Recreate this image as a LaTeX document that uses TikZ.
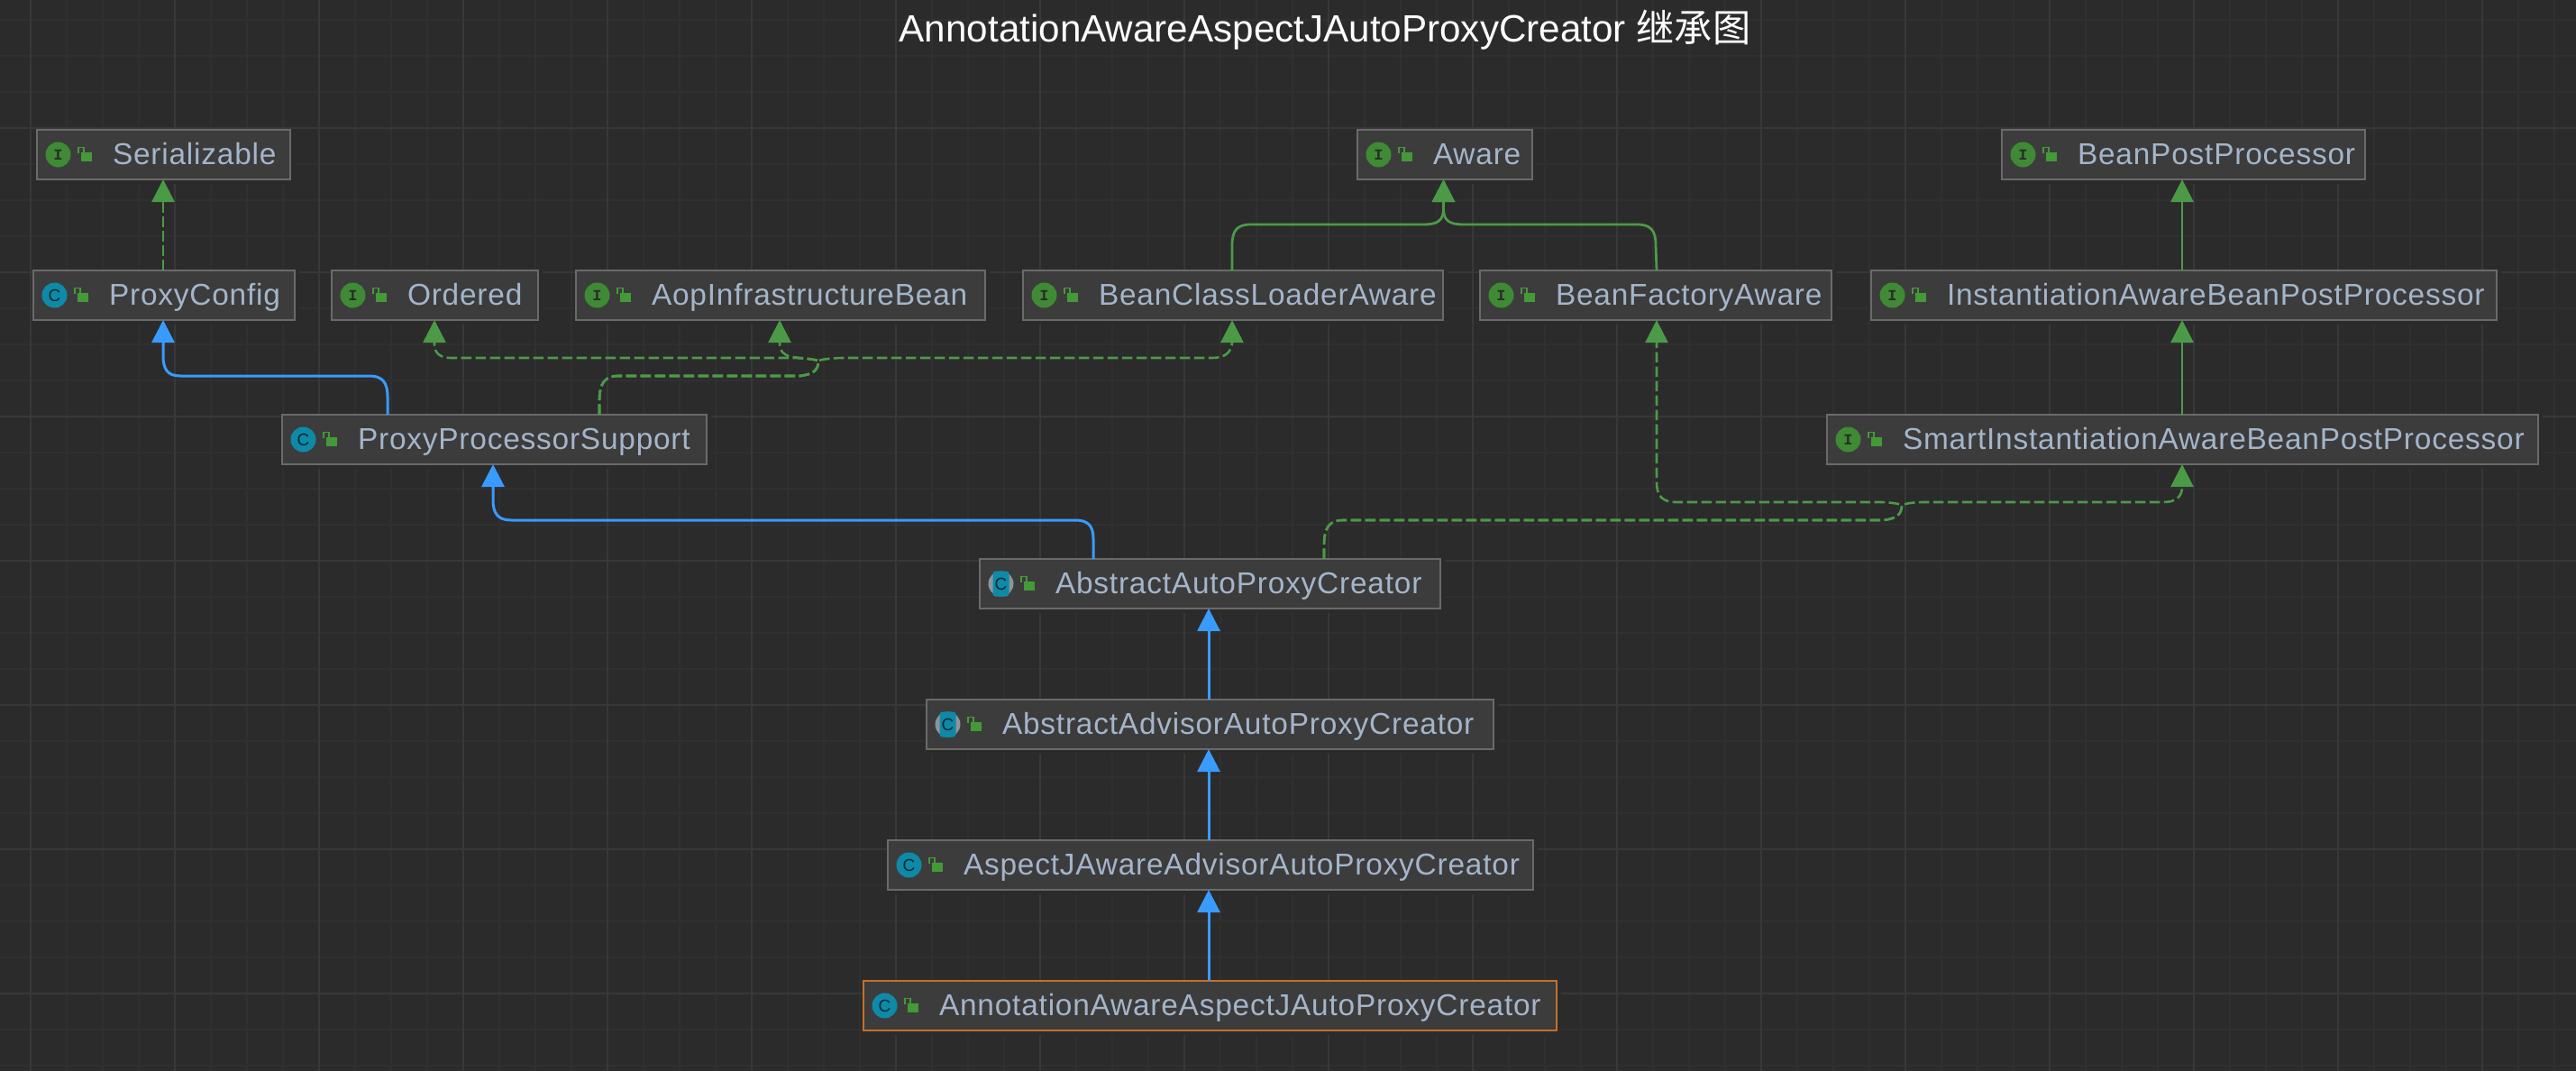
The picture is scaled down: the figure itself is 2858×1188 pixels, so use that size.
\documentclass[tikz,border=0pt]{standalone}
\usepackage{fontspec}
\setmainfont{Liberation Sans}
\newfontfamily\spacedfont{Liberation Sans}[LetterSpace=2.4]
\newfontfamily\cjkfont{Noto Sans CJK SC}
\newfontfamily\iconmono{Liberation Mono}[BoldFont={* Bold}]
\usetikzlibrary{arrows.meta}
\definecolor{bgc}{HTML}{2B2B2B}
\definecolor{gridminor}{HTML}{303030}
\definecolor{gridmajor}{HTML}{383838}
\definecolor{boxfill}{HTML}{3C3C3C}
\definecolor{boxline}{HTML}{6A6A6A}
\definecolor{labelc}{HTML}{A4B5C9}
\definecolor{ifgreen}{HTML}{3F8A35}
\definecolor{lockgreen}{HTML}{439A37}
\definecolor{clteal}{HTML}{0E8AA8}
\definecolor{absgray}{HTML}{8B959B}
\definecolor{edgegreen}{HTML}{4C9A48}
\definecolor{edgeblue}{HTML}{3A9BFF}
\definecolor{selorange}{HTML}{C4702A}
\tikzset{
  classbox/.style={draw=boxline,fill=boxfill,line width=1pt,inner sep=0pt,outer sep=0pt,
    font=\spacedfont\fontsize{16.7pt}{18pt}\selectfont,text=labelc},
  selected/.style={draw=selorange},
  ifacedot/.style={circle,fill=ifgreen,minimum size=14pt,inner sep=0pt,text=bgc,
    font=\iconmono\bfseries\fontsize{8.5pt}{9pt}\selectfont},
  classdot/.style={circle,fill=clteal,minimum size=14pt,inner sep=0pt,text=black!70!clteal,
    font=\fontsize{9.5pt}{10pt}\selectfont},
  absdot/.style={circle,fill=absgray,minimum size=14pt,inner sep=0pt},
  absband/.style={fill=clteal,rounded corners=1.5pt,minimum width=9pt,minimum height=14pt,inner sep=0pt,
    text=black!70!clteal,font=\fontsize{9.5pt}{10pt}\selectfont},
  lockbody/.style={fill=lockgreen,minimum width=6.2pt,minimum height=5pt,inner sep=0pt},
  solidgreen/.style={draw=edgegreen,line width=1.4pt,-{Triangle[length=12.5pt,width=12.5pt,fill=edgegreen]}},
  dashgreen/.style={draw=edgegreen,line width=1.3pt,dash pattern=on 5.8pt off 2.2pt,
     -{Triangle[length=12.5pt,width=12.5pt,fill=edgegreen]}},
  solidblue/.style={draw=edgeblue,line width=1.5pt,-{Triangle[length=12.5pt,width=12.5pt,fill=edgeblue]}},
}
% #1 name, #2 x1, #3 y1, #4 x2, #5 y2, #6 kind (I,C,A), #7 extra style, #8 text
\newcommand{\classnode}[8]{%
  \fill[bgc] (#2,#3) rectangle (#4+4,#5+4);
  \pgfmathsetmacro{\bw}{(#4-#2-2)*0.5}
  \pgfmathsetmacro{\bh}{(#5-#3-2)*0.5}
  \pgfmathsetmacro{\bcx}{(#2+#4)/2}
  \pgfmathsetmacro{\bcy}{(#3+#5)/2}
  \node[classbox,#7,minimum height=\bh pt] (#1) at (\bcx,\bcy)
    {\makebox[\bw pt][l]{\rule[-3pt]{0pt}{17pt}\hspace{42pt}#8}};
  \pgfmathsetmacro{\ix}{#2+24.5}
  \pgfmathsetmacro{\lx}{#2+56}
  \pgfmathsetmacro{\ly}{\bcy+2}
  \pgfmathsetmacro{\sxa}{#2+47}
  \pgfmathsetmacro{\sxb}{#2+53}
  \pgfmathsetmacro{\sya}{\bcy-1.5}
  \pgfmathsetmacro{\syb}{\bcy-8}
  \pgfmathsetmacro{\syc}{\bcy-3}
  \ifx#6I\node[ifacedot] (#1-icon) at (\ix,\bcy) {I};\fi
  \ifx#6C\node[classdot] (#1-icon) at (\ix,\bcy) {C};\fi
  \ifx#6A\node[absdot] (#1-icon) at (\ix,\bcy) {};
    \node[absband] (#1-band) at (\ix,\bcy) {C};\fi
  \draw[lockgreen,line width=0.9pt] (\sxa,\sya) -- (\sxa,\syb) -- (\sxb,\syb) -- (\sxb,\syc);
  \node[lockbody] (#1-lock) at (\lx,\ly) {};
}
\begin{document}
\begin{tikzpicture}[x=0.5pt,y=-0.5pt]
\useasboundingbox (0,0) rectangle (2858,1188);
\fill[bgc] (0,0) rectangle (2858,1188);
\foreach \gx in {34,74,...,2834} \draw[gridminor,line width=1pt] (\gx,0) -- (\gx,1188);
\foreach \gy in {22,62,...,1182} \draw[gridminor,line width=1pt] (0,\gy) -- (2858,\gy);
\foreach \gx in {34,194,...,2834} \draw[gridmajor,line width=1pt] (\gx,0) -- (\gx,1188);
\foreach \gy in {142,302,...,1102} \draw[gridmajor,line width=1pt] (0,\gy) -- (2858,\gy);

\node[text=white,anchor=base,inner sep=0pt,font=\fontsize{21.1pt}{24pt}\selectfont] (title) at (1470,47)
  {AnnotationAwareAspectJAutoProxyCreator {\cjkfont 继承图}};

\classnode{ser}{40}{143}{323}{200}{I}{}{Serializable}
\classnode{aware}{1505}{143}{1701}{200}{I}{}{Aware}
\classnode{bpp}{2220}{143}{2625}{200}{I}{}{BeanPostProcessor}
\classnode{pconf}{36}{299}{328}{356}{C}{}{ProxyConfig}
\classnode{ord}{367}{299}{598}{356}{I}{}{Ordered}
\classnode{aop}{638}{299}{1094}{356}{I}{}{AopInfrastructureBean}
\classnode{bcl}{1134}{299}{1602}{356}{I}{}{BeanClassLoaderAware}
\classnode{bfa}{1641}{299}{2033}{356}{I}{}{BeanFactoryAware}
\classnode{iabpp}{2075}{299}{2771}{356}{I}{}{InstantiationAwareBeanPostProcessor}
\classnode{pps}{312}{459}{785}{516}{C}{}{ProxyProcessorSupport}
\classnode{siabpp}{2026}{459}{2817}{516}{I}{}{SmartInstantiationAwareBeanPostProcessor}
\classnode{aapc}{1086}{619}{1599}{676}{A}{}{AbstractAutoProxyCreator}
\classnode{aaapc}{1027}{775}{1658}{832}{A}{}{AbstractAdvisorAutoProxyCreator}
\classnode{ajapc}{984}{931}{1702}{988}{C}{}{AspectJAwareAdvisorAutoProxyCreator}
\classnode{annot}{957}{1087}{1728}{1144}{C}{selected}{AnnotationAwareAspectJAutoProxyCreator}

% port columns
\coordinate (xSer) at (181,0);
\coordinate (xPpsL) at (430,0);
\coordinate (xPpsR) at (665,0);
\coordinate (xOrd) at (482,0);
\coordinate (xAop) at (865,0);
\coordinate (xBcl) at (1367,0);
\coordinate (xBfa) at (1838,0);
\coordinate (xRight) at (2421,0);
\coordinate (xPpsC) at (547,0);
\coordinate (xAapcL) at (1213,0);
\coordinate (xAapcR) at (1469,0);
\coordinate (xMid) at (1341,0);
\coordinate (xAware) at (1601.5,0);

% straight edges
\draw[dashgreen] (pconf.north -| xSer) -- (ser.south -| xSer);
\draw[solidgreen] (iabpp.north -| xRight) -- (bpp.south -| xRight);
\draw[solidgreen] (siabpp.north -| xRight) -- (iabpp.south -| xRight);
\draw[solidblue] (aaapc.north -| xMid) -- (aapc.south -| xMid);
\draw[solidblue] (ajapc.north -| xMid) -- (aaapc.south -| xMid);
\draw[solidblue] (annot.north -| xMid) -- (ajapc.south -| xMid);

% Aware
\draw[solidgreen] (bcl.north -| xBcl) -- (1367,272) .. controls (1367,255) and (1373,249) .. (1388,249)
   -- (1580,249) .. controls (1594,249) and (1601.5,245) .. (1601.5,232) -- (aware.south -| xAware);
\draw[solidgreen] (bfa.north -| xBfa) -- (1837,272) .. controls (1837,255) and (1831,249) .. (1816,249)
   -- (1623,249) .. controls (1609,249) and (1601.5,245) .. (1601.5,232) -- (aware.south -| xAware);

% blue bends
\draw[solidblue] (pps.north -| xPpsL) -- (430,440) .. controls (430,424) and (424,417) .. (410,417)
   -- (200,417) .. controls (186,417) and (181,410) .. (181,394) -- (pconf.south -| xSer);
\draw[solidblue] (aapc.north -| xAapcL) -- (1213,598) .. controls (1213,583) and (1207,577) .. (1193,577)
   -- (567,577) .. controls (553,577) and (547,570) .. (547,555) -- (pps.south -| xPpsC);

% ProxyProcessorSupport implements
\draw[dashgreen] (pps.north -| xPpsR) -- (665,445) .. controls (665,425) and (671,417) .. (686,417)
   -- (888,417) .. controls (902,415) and (908,411) .. (908,400)
   .. controls (900,398) and (888,397) .. (876,397)
   -- (500,397) .. controls (489,397) and (482,392) .. (482,382) -- (ord.south -| xOrd);
\draw[dashgreen] (pps.north -| xPpsR) -- (665,445) .. controls (665,425) and (671,417) .. (686,417)
   -- (888,417) .. controls (902,415) and (908,411) .. (908,400)
   .. controls (900,398) and (888,397) .. (878,396) .. controls (870,394) and (865,390) .. (865,380)
   -- (aop.south -| xAop);
\draw[dashgreen] (pps.north -| xPpsR) -- (665,445) .. controls (665,425) and (671,417) .. (686,417)
   -- (888,417) .. controls (902,415) and (908,411) .. (908,400)
   .. controls (915,398) and (925,397) .. (938,397)
   -- (1345,397) .. controls (1359,397) and (1367,391) .. (1367,378) -- (bcl.south -| xBcl);

% AbstractAutoProxyCreator implements
\draw[dashgreen] (aapc.north -| xAapcR) -- (1469,605) .. controls (1469,585) and (1475,577) .. (1490,577)
   -- (2090,577) .. controls (2104,575) and (2110,571) .. (2110,560)
   .. controls (2103,558) and (2094,557) .. (2085,557)
   -- (1860,557) .. controls (1845,557) and (1838,551) .. (1838,535) -- (bfa.south -| xBfa);
\draw[dashgreen] (aapc.north -| xAapcR) -- (1469,605) .. controls (1469,585) and (1475,577) .. (1490,577)
   -- (2090,577) .. controls (2104,575) and (2110,571) .. (2110,560)
   .. controls (2117,558) and (2125,557) .. (2135,557)
   -- (2400,557) .. controls (2414,557) and (2421,551) .. (2421,540) -- (siabpp.south -| xRight);
\end{tikzpicture}
\end{document}
